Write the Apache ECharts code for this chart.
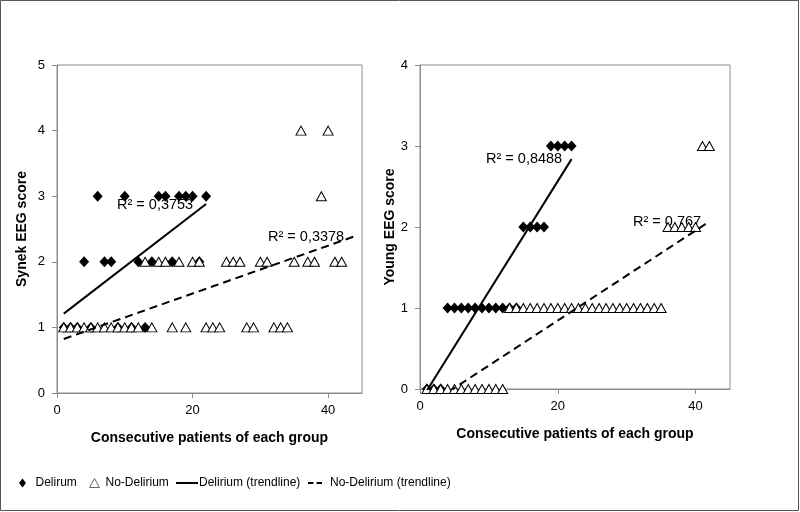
<!DOCTYPE html>
<html><head><meta charset="utf-8">
<script src="https://cdn.jsdelivr.net/npm/echarts@6/dist/echarts.min.js"></script>
<style>html,body{margin:0;padding:0;background:#fff}#c{width:800px;height:512px}</style>
</head><body><div id="c"></div>
<script>
// ---- data ----
const xTickLabels = [0, 20, 40];
const synekDelX = [1,2,3,4,5,6,7,8,9,10,11,12,13,14,15,16,17,18,19,20,21,22];
const synekDelY = [1,1,1,2,1,3,2,2,1,3,1,2,1,2,3,3,2,3,3,3,2,3];
const synekNoDelX = [1,2,3,4,5,6,7,8,9,10,11,12,13,14,15,16,17,18,19,20,21,22,23,24,25,26,27,28,29,30,31,32,33,34,35,36,37,38,39,40,41,42];
const synekNoDelY = [1,1,1,1,1,1,1,1,1,1,1,1,2,1,2,2,1,2,1,2,2,1,1,1,2,2,2,1,1,2,2,1,1,1,2,4,2,2,3,4,2,2];
const youngDelX = [1,2,3,4,5,6,7,8,9,10,11,12,13,14,15,16,17,18,19,20,21,22];
const youngDelY = [0,0,0,1,1,1,1,1,1,1,1,1,1,1,2,2,2,2,3,3,3,3];
const youngNoDelX = [1,2,3,4,5,6,7,8,9,10,11,12,13,14,15,16,17,18,19,20,21,22,23,24,25,26,27,28,29,30,31,32,33,34,35,36,37,38,39,40,41,42];
const youngNoDelY = [0,0,0,0,0,0,0,0,0,0,0,0,1,1,1,1,1,1,1,1,1,1,1,1,1,1,1,1,1,1,1,1,1,1,1,2,2,2,2,2,3,3];
const trendRangeSynekDel = [1, 22];
const trendRangeSynekNoDel = [1, 44];
const trendRangeYoungDel = [1, 22];
const trendRangeYoungNoDel = [1, 42];
const r2Labels = ['R² = 0,3753', 'R² = 0,3378', 'R² = 0,8488', 'R² = 0,767'];
const seriesNames = ['Delirum', 'No-Delirium', 'Delirium (trendline)', 'No-Delirium (trendline)'];

function pairs(xs, ys){ return xs.map((x,i)=>[x, ys[i]]); }
function trend(xs, ys, range){
  const n = xs.length;
  const mx = xs.reduce((a,b)=>a+b,0)/n, my = ys.reduce((a,b)=>a+b,0)/n;
  let sxy=0, sxx=0;
  for(let i=0;i<n;i++){ sxy+=(xs[i]-mx)*(ys[i]-my); sxx+=(xs[i]-mx)*(xs[i]-mx); }
  const b = sxy/sxx, a = my - b*mx;
  return range.map(x=>[x, a+b*x]);
}

const FONT = '"Liberation Sans", Arial, sans-serif';
const axisGray = '#8c8c8c';

function xAxis(gi){
  return {
    gridIndex: gi, type:'value', min:0, max:45, interval:20,
    name:'Consecutive patients of each group', nameLocation:'middle', nameGap:38,
    nameTextStyle:{fontFamily:FONT, fontSize:14, fontWeight:'bold', color:'#000'},
    axisLine:{show:true, lineStyle:{color:axisGray}},
    axisTick:{show:true, inside:false, length:5, lineStyle:{color:axisGray}},
    axisLabel:{fontFamily:FONT, fontSize:13, color:'#000', margin:11, showMaxLabel:false,
      formatter: v => xTickLabels.indexOf(v) >= 0 ? String(v) : ''},
    splitLine:{show:false}
  };
}
function yAxis(gi, max, name, gap){
  return {
    gridIndex: gi, type:'value', min:0, max:max, interval:1,
    name:name, nameLocation:'middle', nameGap:gap, nameRotate:90,
    nameTextStyle:{fontFamily:FONT, fontSize:14, fontWeight:'bold', color:'#000'},
    axisLine:{show:true, lineStyle:{color:axisGray}},
    axisTick:{show:true, inside:false, length:5, lineStyle:{color:axisGray}},
    axisLabel:{fontFamily:FONT, fontSize:13, color:'#000', margin:12},
    splitLine:{show:false}
  };
}

const diamondStyle = {color:'#000', opacity:1};
const triStyle = {color:'#fff', borderColor:'#000', borderWidth:1, opacity:1};

function scatter(name, xi, data, symbol, size, style){
  return {name, type:'scatter', xAxisIndex:xi, yAxisIndex:xi, data, symbol, symbolSize:size,
    itemStyle:style, emphasis:{disabled:true}, z:3};
}
function tline(name, xi, data, dashed){
  return {name, type:'line', xAxisIndex:xi, yAxisIndex:xi, data, symbol:'none', clip:true,
    lineStyle:{color:'#000', width:2, type: dashed ? [8,5] : 'solid'}, itemStyle:{color:'#000'},
    emphasis:{disabled:true}, z:4};
}
function legendItem(name, left, w, icon, itemStyle, pad){
  return {
    left:left, top:472, itemWidth:w, itemHeight:9, selectedMode:false,
    textStyle:{fontFamily:FONT, fontSize:12, color:'#000', padding:[0,0,0,pad]},
    data:[{name:name, icon:icon, itemStyle:itemStyle}]
  };
}

const chart = echarts.init(document.getElementById('c'), null, {renderer:'canvas'});
chart.setOption({
  animation:false,
  backgroundColor:'#fff',
  grid:[
    {left:57, top:65, width:305, height:328, show:true, borderColor:axisGray, borderWidth:1},
    {left:420, top:65, width:310, height:324, show:true, borderColor:axisGray, borderWidth:1}
  ],
  xAxis:[xAxis(0), xAxis(1)],
  yAxis:[yAxis(0,5,'Synek EEG score',28), yAxis(1,4,'Young EEG score',22)],
  legend:[
    legendItem(seriesNames[0], 14, 8, 'path://M3.5,0L7,4.5L3.5,9L0,4.5Z', {color:'#000'}, 4),
    legendItem(seriesNames[1], 84, 10, 'triangle', {color:'#fff', borderColor:'#666', borderWidth:1}, 1),
    legendItem(seriesNames[2], 171, 22, 'path://M0,0H22V2H0Z', {color:'#000'}, -4),
    legendItem(seriesNames[3], 303, 14, 'path://M0,0H5V2H0Z M8,0H13V2H8Z', {color:'#000'}, 3)
  ],
  graphic:[
    {type:'rect', shape:{x:0.5, y:0.5, width:798, height:510}, style:{fill:null, stroke:'#555', lineWidth:1}, silent:true, z:-10},
    {type:'text', left:117, top:197, z:1, style:{text:r2Labels[0], font:'14.5px '+FONT, fill:'#000'}},
    {type:'text', left:268, top:229, z:1, style:{text:r2Labels[1], font:'14.5px '+FONT, fill:'#000'}},
    {type:'text', left:486, top:151, z:1, style:{text:r2Labels[2], font:'14.5px '+FONT, fill:'#000'}},
    {type:'text', left:633, top:214, z:1, style:{text:r2Labels[3], font:'14.5px '+FONT, fill:'#000'}}
  ],
  series:[
    scatter(seriesNames[0], 0, pairs(synekDelX, synekDelY), 'diamond', [10,11], diamondStyle),
    scatter(seriesNames[1], 0, pairs(synekNoDelX, synekNoDelY), 'triangle', [10,9], triStyle),
    tline(seriesNames[2], 0, trend(synekDelX, synekDelY, trendRangeSynekDel), false),
    tline(seriesNames[3], 0, trend(synekNoDelX, synekNoDelY, trendRangeSynekNoDel), true),
    scatter(seriesNames[0], 1, pairs(youngDelX, youngDelY), 'diamond', [10,11], diamondStyle),
    scatter(seriesNames[1], 1, pairs(youngNoDelX, youngNoDelY), 'triangle', [10,9], triStyle),
    tline(seriesNames[2], 1, trend(youngDelX, youngDelY, trendRangeYoungDel), false),
    tline(seriesNames[3], 1, trend(youngNoDelX, youngNoDelY, trendRangeYoungNoDel), true)
  ]
});
</script></body></html>
